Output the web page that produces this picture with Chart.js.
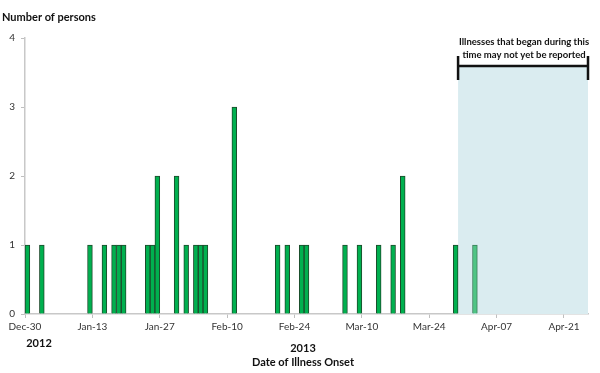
<!DOCTYPE html>
<html>
<head>
<meta charset="utf-8">
<script src="https://cdn.jsdelivr.net/npm/chart.js@4"></script>
<style>
  html, body { margin: 0; padding: 0; background: #fff; }
  #wrap { width: 600px; height: 373px; position: relative; }
</style>
</head>
<body>
<div id="wrap"><canvas id="onset"></canvas></div>
<script>
// onset dates and number of persons per day
const onsetDates = [
  "2012-12-30", "2013-01-02", "2013-01-12", "2013-01-15", "2013-01-17",
  "2013-01-18", "2013-01-19", "2013-01-24", "2013-01-25", "2013-01-26",
  "2013-01-30", "2013-02-01", "2013-02-03", "2013-02-04", "2013-02-05",
  "2013-02-11", "2013-02-20", "2013-02-22", "2013-02-25", "2013-02-26",
  "2013-03-06", "2013-03-09", "2013-03-13", "2013-03-16", "2013-03-18",
  "2013-03-29", "2013-04-02",
];
const counts = [
  1, 1, 1, 1, 1,
  1, 1, 1, 1, 2,
  2, 1, 1, 1, 1,
  3, 1, 1, 1, 1,
  1, 1, 1, 1, 2,
  1, 1,
];
const axisStart = "2012-12-30";
const axisEnd = "2013-04-25";
const lagStart = "2013-03-30"; // illnesses may not yet be reported
const tickEveryDays = 14;
const yTicks = [0, 1, 2, 3, 4];
const months = ["Jan", "Feb", "Mar", "Apr", "May", "Jun", "Jul", "Aug", "Sep", "Oct", "Nov", "Dec"];

const DAY = 86400000;
function toUTC(s) {
  const p = s.split("-").map(Number);
  return Date.UTC(p[0], p[1] - 1, p[2]);
}
const t0 = toUTC(axisStart);
function dayIndex(s) {
  return Math.round((toUTC(s) - t0) / DAY);
}
function dayLabel(n) {
  const d = new Date(t0 + n * DAY);
  return months[d.getUTCMonth()] + "-" + String(d.getUTCDate()).padStart(2, "0");
}

const lagDay = dayIndex(lagStart);
const maxDay = dayIndex(axisEnd) + 1;

const points = onsetDates.map((s, i) => ({ x: dayIndex(s) + 0.5, y: counts[i] }));

Chart.defaults.font.family = "Lato, 'Open Sans', sans-serif";
Chart.defaults.color = "#333";

const lagPlugin = {
  id: "lag",
  beforeDatasetsDraw(chart) {
    const { ctx, chartArea, scales } = chart;
    const x1 = scales.x.getPixelForValue(lagDay);
    const x2 = scales.x.getPixelForValue(maxDay);
    ctx.save();
    ctx.fillStyle = "#daecf0";
    ctx.fillRect(x1, 66, x2 - x1, chartArea.bottom - 66);
    ctx.restore();
  },
  afterDraw(chart) {
    const { ctx, scales } = chart;
    const x1 = scales.x.getPixelForValue(lagDay);
    const x2 = scales.x.getPixelForValue(maxDay);
    ctx.save();
    // bracket
    ctx.strokeStyle = "#111";
    ctx.lineWidth = 2.5;
    ctx.beginPath();
    ctx.moveTo(x1, 66); ctx.lineTo(x2, 66);
    ctx.moveTo(x1, 56); ctx.lineTo(x1, 80);
    ctx.moveTo(x2, 56); ctx.lineTo(x2, 80);
    ctx.stroke();
    ctx.fillStyle = "#111";
    ctx.textAlign = "center";
    ctx.textBaseline = "middle";
    ctx.font = "bold 9.5px Lato, sans-serif";
    const cx = (x1 + x2) / 2 + 1;
    ctx.fillText("Illnesses that began during this", cx, 42);
    ctx.fillText("time may not yet be reported", cx, 55);
    // titles
    ctx.textAlign = "left";
    ctx.font = "bold 11px Lato, sans-serif";
    ctx.fillText("Number of persons", 2, 17);
    ctx.textAlign = "center";
    ctx.fillText("2012", 39, 343);
    ctx.fillText("2013", 303, 348);
    ctx.fillText("Date of Illness Onset", 303, 362);
    ctx.restore();
  },
};

new Chart(document.getElementById("onset"), {
  type: "bar",
  data: {
    datasets: [
      {
        label: "Persons",
        data: points,
        backgroundColor: (c) => (c.raw && c.raw.x >= lagDay ? "#4fc484" : "#00b04f"),
        borderColor: (c) => (c.raw && c.raw.x >= lagDay ? "#3a7d58" : "#1c4a2b"),
        borderWidth: 1,
        barPercentage: 1,
        categoryPercentage: 1,
      },
    ],
  },
  options: {
    responsive: true,
    maintainAspectRatio: false,
    animation: false,
    layout: { padding: { top: 38, right: 12, left: 0, bottom: 0 } },
    plugins: { legend: { display: false }, tooltip: { enabled: false } },
    scales: {
      x: {
        type: "linear",
        min: 0,
        max: maxDay,
        offset: false,
        afterFit: (s) => { s.height = 59; },
        afterBuildTicks: (s) => {
          const t = [];
          for (let v = 0; v <= maxDay; v += tickEveryDays) t.push({ value: v });
          s.ticks = t;
        },
        ticks: {
          padding: 3,
          maxRotation: 0,
          autoSkip: false,
          font: { size: 10 },
          callback: (v) => dayLabel(v),
        },
        grid: { drawOnChartArea: false, offset: false, tickLength: 4, color: "#bfbfbf" },
        border: { color: "#c8c8c8", width: 1.5 },
      },
      y: {
        min: 0,
        max: 4,
        afterFit: (s) => { s.width = 25; },
        afterBuildTicks: (s) => { s.ticks = yTicks.map((v) => ({ value: v })); },
        ticks: { padding: 6, font: { size: 10 } },
        grid: { drawOnChartArea: false, tickLength: 4, color: "#bfbfbf" },
        border: { color: "#c8c8c8", width: 1.5 },
      },
    },
  },
  plugins: [lagPlugin],
});
</script>
</body>
</html>
